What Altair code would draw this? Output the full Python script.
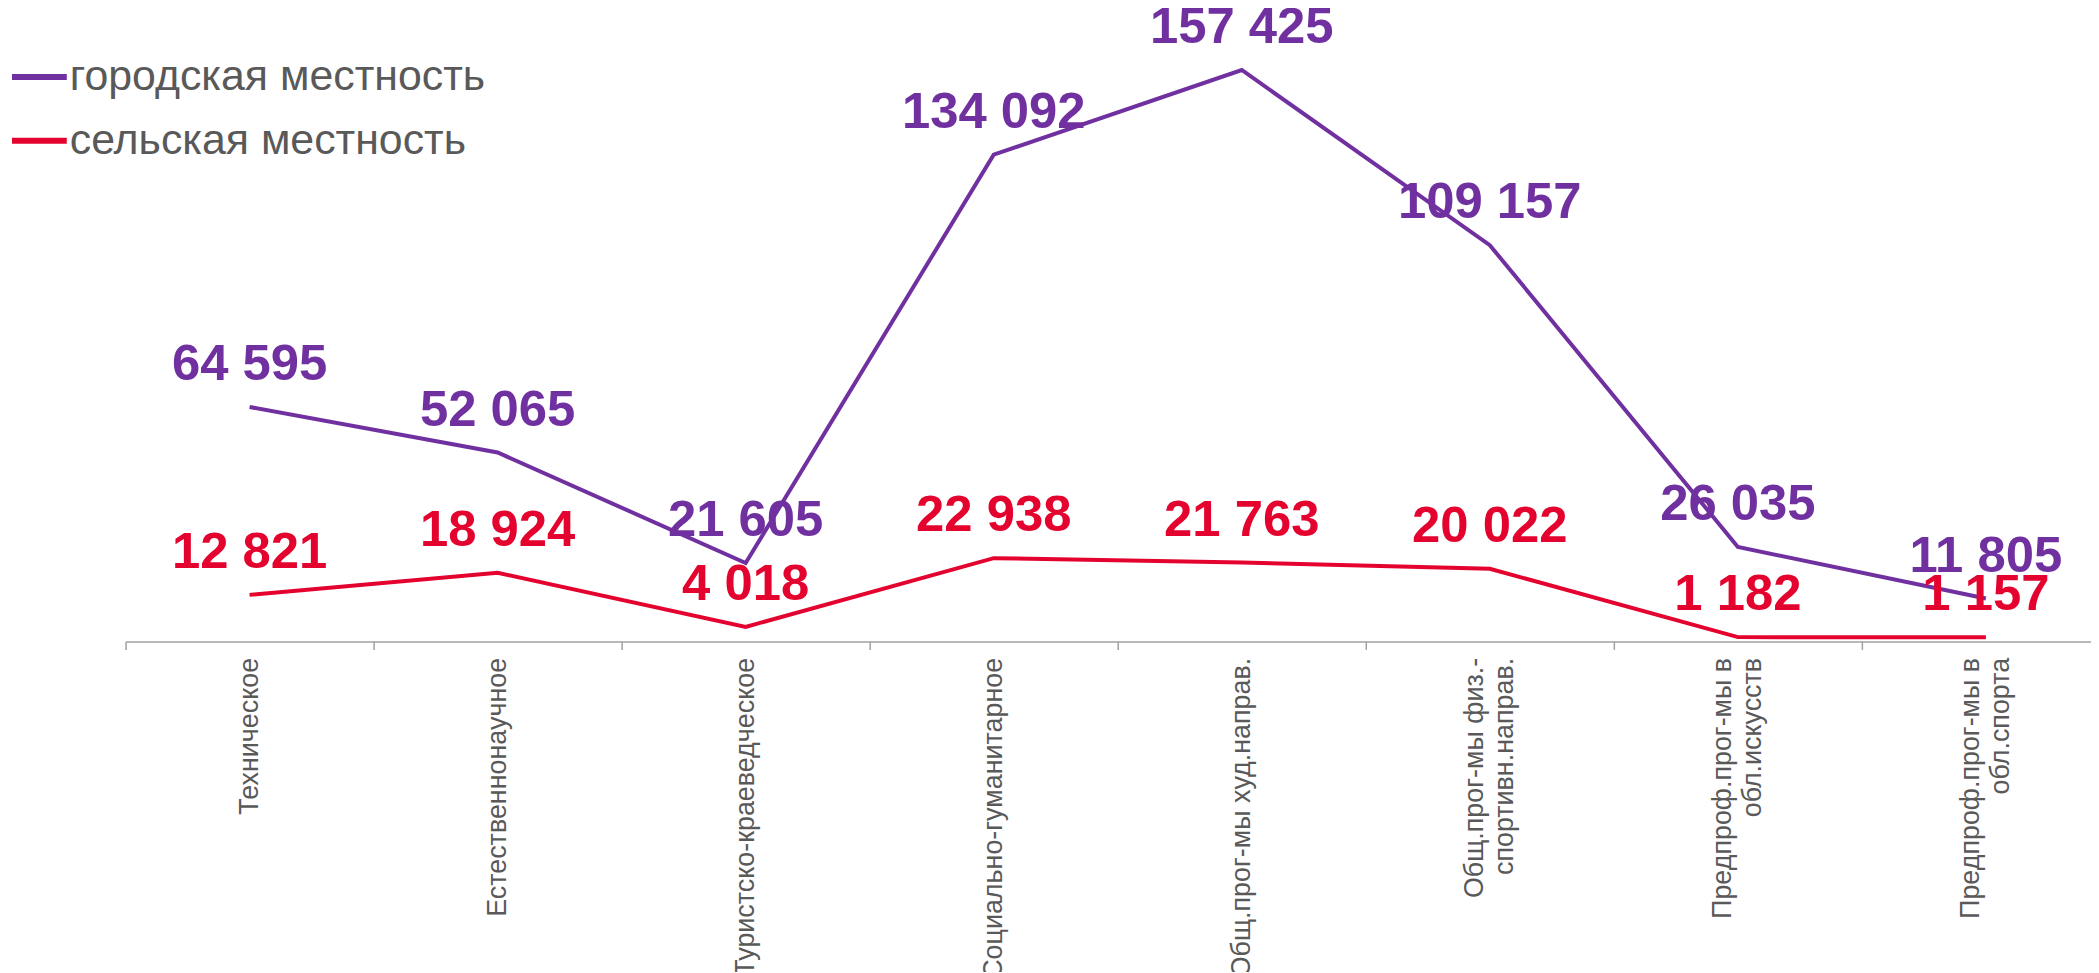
import altair as alt
import pandas as pd

categories = [
    "Техническое",
    "Естественнонаучное",
    "Туристско-краеведческое",
    "Социально-гуманитарное",
    "Общ.прог-мы худ.напрaв.",
    "Общ.прог-мы физ.-|спортивн.направ.",
    "Предпроф.прог-мы в|обл.искусств",
    "Предпроф.прог-мы в|обл.спорта",
]
urban = [64595, 52065, 21605, 134092, 157425, 109157, 26035, 11805]
rural = [12821, 18924, 4018, 22938, 21763, 20022, 1182, 1157]
series_names = ["городская местность", "сельская местность"]
colors = ["#7030A0", "#E4032E"]

rows = []
for name, vals in zip(series_names, [urban, rural]):
    for c, v in zip(categories, vals):
        rows.append({"cat": c, "series": name, "value": v,
                     "label": f"{v:,}".replace(",", " ")})
df = pd.DataFrame(rows)

FONT = "Liberation Sans"

x_enc = alt.X(
    "cat:N",
    sort=categories,
    bandPosition=0.5,
    scale=alt.Scale(type="band", paddingInner=0, paddingOuter=0, range=[0, 1992]),
    axis=alt.Axis(
        title=None,
        labelAngle=270,
        labelFontSize=27,
        labelFont=FONT,
        labelColor="#595959",
        labelPadding=8,
        labelLineHeight=30,
        labelExpr="split(datum.label, '|')",
        labelOffset={"condition": {"test": "indexof(datum.label, '|') >= 0", "value": -15}, "value": 0},
        tickBand="extent",
        tickSize=8,
        tickColor="#A0A0A0",
        domainColor="#A0A0A0",
        domainWidth=1.5,
        tickWidth=1.5,
        labelOverlap=False,
        labelLimit=0,
    ),
)
y_enc = alt.Y("value:Q", scale=alt.Scale(domain=[0, 160000], nice=False, zero=True), axis=None)
color_enc = alt.Color(
    "series:N",
    sort=series_names,
    scale=alt.Scale(domain=series_names, range=colors),
    legend=alt.Legend(
        title=None,
        orient="none",
        legendX=-117,
        legendY=-14,
        symbolType="stroke",
        symbolSize=3025,
        symbolStrokeWidth=6,
        labelFontSize=43,
        labelFont=FONT,
        labelColor="#595959",
        labelOffset=0,
        rowPadding=11,
        padding=0,
        labelLimit=0,
    ),
)

lines = alt.Chart(df).mark_line(strokeWidth=4).encode(x=x_enc, y=y_enc, color=color_enc)
labels = alt.Chart(df).mark_text(
    fontSize=51, fontWeight="bold", font=FONT, dy=-42, baseline="middle", align="center"
).encode(
    x=alt.X("cat:N", sort=categories, bandPosition=0.5),
    y="value:Q",
    text="label:N",
    color=alt.Color("series:N", sort=series_names, legend=None),
)

chart = (
    alt.layer(lines, labels)
    .properties(
        width=1973,
        height=583,
        autosize=alt.AutoSizeParams(type="none"),
        padding={"left": 118, "top": 51, "right": 0, "bottom": 330},
    )
    .configure_view(strokeWidth=0)
)

chart.save("out.html", embed_options={"renderer": "svg", "actions": False})
